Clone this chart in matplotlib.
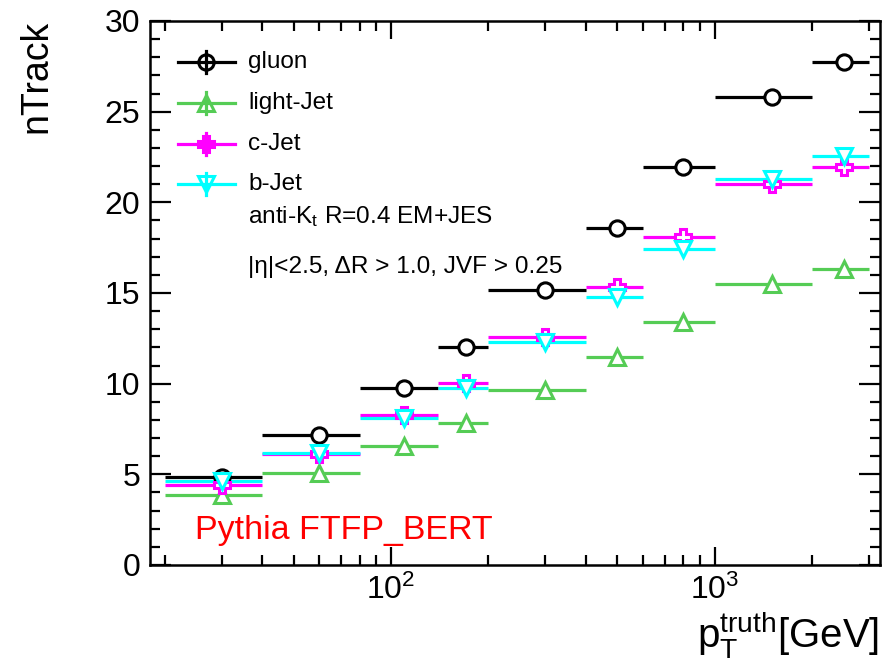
import numpy as np
import matplotlib
matplotlib.use("Agg")
import matplotlib.pyplot as plt
from matplotlib.lines import Line2D
from matplotlib.ticker import LogLocator, FixedLocator, NullFormatter, FuncFormatter

plt.rcParams['font.family'] = ['Liberation Sans', 'DejaVu Sans']
plt.rcParams['mathtext.fontset'] = 'custom'
plt.rcParams['mathtext.rm'] = 'Liberation Sans'
plt.rcParams['mathtext.it'] = 'Liberation Sans:italic'
plt.rcParams['mathtext.bf'] = 'Liberation Sans:bold'

# ---- data ----
bin_edges = [20, 40, 80, 140, 200, 400, 600, 1000, 2000, 3000]
gluon = [4.83, 7.15, 9.78, 12.04, 15.17, 18.57, 21.97, 25.83, 27.73]
light = [3.84, 5.10, 6.55, 7.82, 9.65, 11.49, 13.40, 15.48, 16.33]
cjet = [4.41, 6.10, 8.26, 10.02, 12.59, 15.35, 18.09, 21.00, 21.97]
bjet = [4.63, 6.20, 8.11, 9.75, 12.30, 14.76, 17.43, 21.27, 22.54]
stat_err = [0, 0, 0, 0, 0, 0, 0, 0, 0]

series = [
    ("gluon", gluon, "black", "o"),
    ("light-Jet", light, "#55cc55", "^"),
    ("c-Jet", cjet, "#ff00ff", "P"),
    ("b-Jet", bjet, "#00ffff", "v"),
]

edges = np.array(bin_edges, dtype=float)
centers = 0.5 * (edges[:-1] + edges[1:])
xerr = np.vstack([centers - edges[:-1], edges[1:] - centers])

W, H = 887, 666
fig = plt.figure(figsize=(W / 100, H / 100), dpi=100)
ax = fig.add_axes([150 / W, 1 - 565 / H, (880 - 150) / W, (565 - 21) / H])

LW = 2.3
MS = 11
MEW = 2.2
for name, vals, col, mk in series:
    ax.errorbar(centers, vals, xerr=xerr, yerr=stat_err, fmt=mk, color=col,
                ecolor=col, elinewidth=LW, capsize=0, markersize=MS,
                markeredgewidth=MEW, markerfacecolor='white',
                markeredgecolor=col, label=name)

ax.set_xscale('log')
ax.set_xlim(18, 3240)
ax.set_ylim(0, 30)

ax.xaxis.set_major_locator(FixedLocator([100, 1000]))
ax.xaxis.set_major_formatter(FuncFormatter(lambda v, p: r'$10^{%d}$' % round(np.log10(v))))
ax.xaxis.set_minor_locator(LogLocator(base=10, subs=np.arange(2, 10), numticks=20))
ax.xaxis.set_minor_formatter(NullFormatter())
ax.yaxis.set_major_locator(FixedLocator([0, 5, 10, 15, 20, 25, 30]))
ax.yaxis.set_minor_locator(FixedLocator(np.arange(0, 31, 1)))

ax.tick_params(which='both', direction='in', top=True, right=True, width=1.6)
ax.tick_params(which='major', length=15, labelsize=23, pad=7)
ax.tick_params(axis='x', which='major', length=13)
ax.tick_params(which='minor', length=7)
for s in ax.spines.values():
    s.set_linewidth(1.8)


def fx(x):
    return x / W


def fy(y):
    return 1 - y / H


def ftext(x, y, s, **kw):
    fig.text(fx(x), fy(y), s, **kw)


# legend drawn by hand in ROOT style
leg_rows = [62, 103, 144, 184]
for (name, vals, col, mk), yr in zip(series, leg_rows):
    fig.add_artist(Line2D([fx(178), fx(235)], [fy(yr), fy(yr)], color=col, lw=LW,
                          transform=fig.transFigure))
    fig.add_artist(Line2D([fx(206), fx(206)], [fy(yr - 11), fy(yr + 11)], color=col, lw=LW,
                          transform=fig.transFigure))
    fig.add_artist(Line2D([fx(206)], [fy(yr)], marker=mk, markersize=MS, markeredgewidth=MEW,
                          markerfacecolor='none', markeredgecolor=col, linestyle='none',
                          transform=fig.transFigure))
    ftext(248, yr, name, fontsize=17.5, va='center', ha='left')

ftext(248, 217, r'anti-K$_{\mathrm{t}}$ R=0.4 EM+JES', fontsize=17.6, va='center', ha='left')
ftext(248, 267, '|η|<2.5, ΔR > 1.0, JVF > 0.25', fontsize=17.6, va='center', ha='left')
ftext(195, 530, 'Pythia FTFP_BERT', fontsize=24.5, color='#ff0000', va='center', ha='left')
ftext(879, 648, r'p$_{\mathrm{T}}^{\mathrm{truth}}$[GeV]', fontsize=29, va='baseline', ha='right')
ftext(36, 20, 'nTrack', fontsize=27, rotation=90, va='top', ha='center')

fig.savefig('out.png', dpi=100)
